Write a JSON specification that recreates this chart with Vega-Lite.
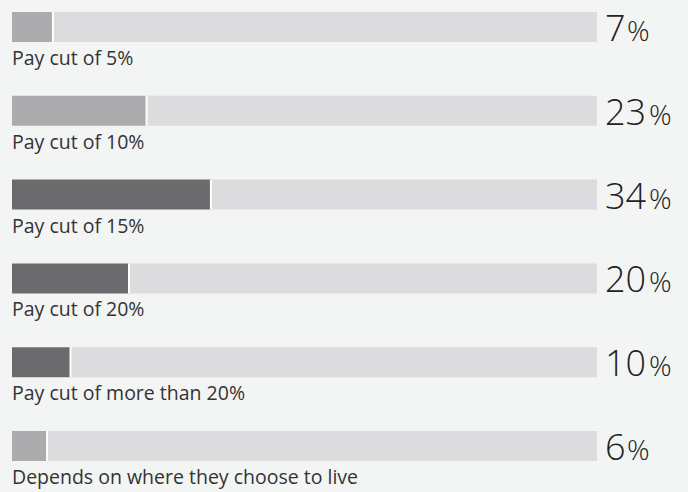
{
  "$schema": "https://vega.github.io/schema/vega-lite/v6.json",
  "width": 585,
  "height": 449,
  "padding": {"left": 12, "top": 12, "right": 91, "bottom": 31},
  "autosize": {"type": "none"},
  "background": "#f3f5f4",
  "config": {"view": {"stroke": null}, "font": "Open Sans"},
  "data": {
    "values": [
      {"label": "Pay cut of 5%", "value": 7},
      {"label": "Pay cut of 10%", "value": 23},
      {"label": "Pay cut of 15%", "value": 34},
      {"label": "Pay cut of 20%", "value": 20},
      {"label": "Pay cut of more than 20%", "value": 10},
      {"label": "Depends on where they choose to live", "value": 6}
    ]
  },
  "encoding": {
    "y": {
      "field": "label",
      "type": "nominal",
      "sort": null,
      "axis": null,
      "scale": {"paddingInner": 0.642, "paddingOuter": 0}
    }
  },
  "layer": [
    {
      "mark": {"type": "bar", "color": "#dcdcde"},
      "encoding": {
        "x": {"field": "value", "type": "quantitative", "scale": {"domain": [0, 100]}, "axis": null},
        "x2": {"datum": 100}
      }
    },
    {
      "mark": {"type": "bar"},
      "encoding": {
        "x": {"field": "value", "type": "quantitative"},
        "color": {
          "field": "label",
          "type": "nominal",
          "legend": null,
          "scale": {
            "domain": ["Pay cut of 5%", "Pay cut of 10%", "Pay cut of 15%", "Pay cut of 20%", "Pay cut of more than 20%", "Depends on where they choose to live"],
            "range": ["#acacae", "#acacae", "#6b6b6e", "#6b6b6e", "#6b6b6e", "#acacae"]
          }
        }
      }
    },
    {
      "mark": {"type": "tick", "color": "#ffffff", "thickness": 2, "size": 30, "opacity": 1},
      "encoding": {
        "x": {"field": "value", "type": "quantitative"}
      }
    },
    {
      "mark": {"type": "text", "align": "left", "baseline": "alphabetic", "dy": 38, "fontSize": 19.5, "letterSpacing": 0.5, "color": "#333333"},
      "encoding": {
        "x": {"datum": 0, "type": "quantitative"},
        "text": {"field": "label"}
      }
    },
    {
      "mark": {"type": "text", "align": "left", "baseline": "alphabetic", "dx": 8, "dy": 14, "fontSize": 36, "fontWeight": 300, "color": "#222222"},
      "encoding": {
        "x": {"datum": 100, "type": "quantitative"},
        "text": {"field": "value"}
      }
    },
    {
      "transform": [{"filter": "datum.value < 10"}],
      "mark": {"type": "text", "align": "left", "baseline": "alphabetic", "dx": 30, "dy": 14, "fontSize": 28, "fontWeight": 300, "color": "#222222"},
      "encoding": {
        "x": {"datum": 100, "type": "quantitative"},
        "text": {"value": "%"}
      }
    },
    {
      "transform": [{"filter": "datum.value >= 10"}],
      "mark": {"type": "text", "align": "left", "baseline": "alphabetic", "dx": 52, "dy": 14, "fontSize": 28, "fontWeight": 300, "color": "#222222"},
      "encoding": {
        "x": {"datum": 100, "type": "quantitative"},
        "text": {"value": "%"}
      }
    }
  ]
}
